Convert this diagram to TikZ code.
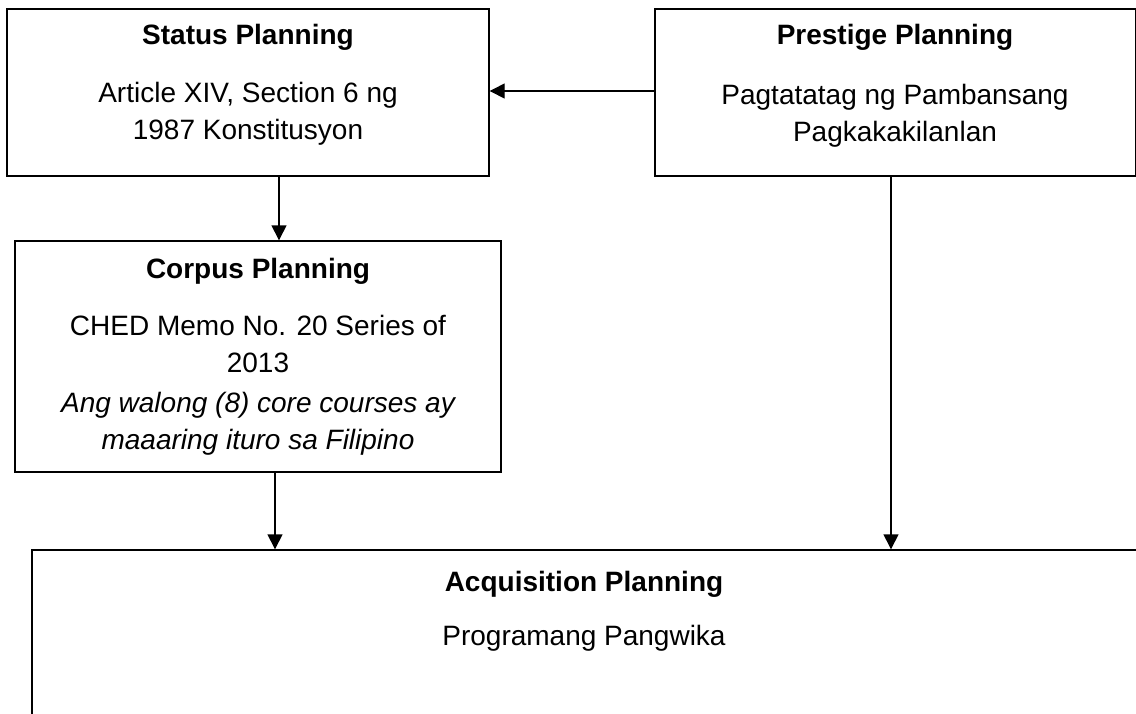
\documentclass[tikz,border=0pt]{standalone}
\usepackage{fontspec}
\setmainfont{Liberation Sans}
\usetikzlibrary{arrows.meta}
\tikzset{
  box/.style={draw=black, line width=1.4pt, rectangle, inner sep=0pt},
  title/.style={font=\fontsize{28}{32}\selectfont\bfseries, inner sep=0pt, anchor=center},
  body/.style={font=\fontsize{28}{37}\selectfont, inner sep=0pt, align=center, anchor=center},
  arr/.style={line width=1.4pt, -{Triangle[length=15pt,width=15pt]}}
}
\begin{document}
\begin{tikzpicture}[x=1pt,y=-1pt]
\useasboundingbox (0,0) rectangle (1136,713);
\clip (0,0) rectangle (1136,713);
% boxes
\node[box, minimum width=482pt, minimum height=167pt] (status) at (248,92.5) {};
\node[box, minimum width=481pt, minimum height=167pt] (prestige) at (895.5,92.5) {};
\node[box, minimum width=486pt, minimum height=231pt] (corpus) at (258,356.5) {};
\node[box, minimum width=1200pt, minimum height=300pt] (acq) at (632,700) {};
% texts
\node[title] (statusT) at (248,37) {Status Planning};
\node[body] (statusB) at (248,114) {Article XIV, Section 6 ng\\1987 Konstitusyon};
\node[title] (prestigeT) at (895,37) {Prestige Planning};
\node[body] (prestigeB) at (895,116) {Pagtatatag ng Pambansang\\Pagkakakilanlan};
\node[title] (corpusT) at (258,271) {Corpus Planning};
\node[body] (corpusB) at (258,344) {CHED Memo No. 20 Series of\\2013};
\node[body, font=\fontsize{28}{37}\selectfont\itshape] (corpusI) at (258,424) {Ang walong (8) core courses ay\\maaaring ituro sa Filipino};
\node[title] (acqT) at (584,584) {Acquisition Planning};
\node[body] (acqB) at (584,638) {Programang Pangwika};
% connectors
\draw[arr] (prestige.west |- 0,91) -- (status.east |- 0,91);
\draw[arr] (status.south -| 279,0) -- (corpus.north -| 279,0);
\draw[arr] (corpus.south -| 275,0) -- (acq.north -| 275,0);
\draw[arr] (prestige.south -| 891,0) -- (acq.north -| 891,0);
\end{tikzpicture}
\end{document}
